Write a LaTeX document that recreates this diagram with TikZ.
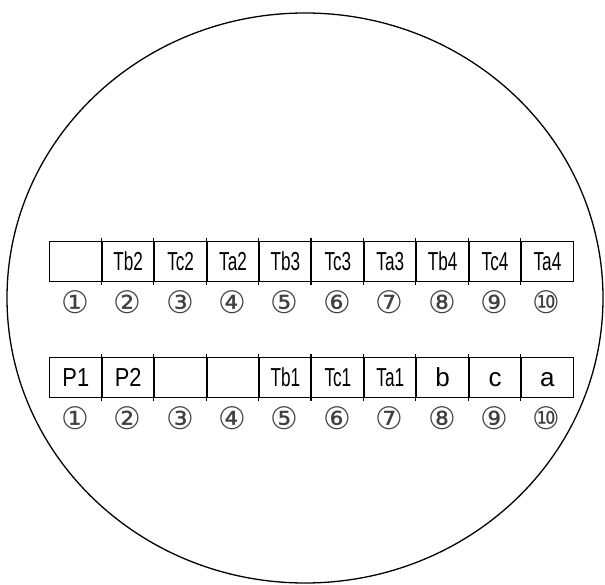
\documentclass[tikz,border=0pt]{standalone}
\usepackage{fontspec}
\setmainfont{Liberation Sans}
\newfontfamily\circfont{DejaVu Sans}
\usepackage{graphicx}
\newcommand\nar[2]{\scalebox{#1}[1]{#2}}
\begin{document}
\begin{tikzpicture}[x=1pt,y=-1pt,
  cell/.style={draw, line width=1.3pt, minimum width=52.4pt, minimum height=40pt,
    inner sep=0pt, anchor=north west, text height=18.6pt, text depth=0pt,
    font=\fontsize{26}{26}\selectfont},
  num/.style={font=\circfont\fontsize{31}{31}\selectfont, inner sep=0pt, text=black!75},
  tick/.style={line width=1.3pt}]
\useasboundingbox (0,0) rectangle (605,585);
\draw[line width=1.3pt] (305,298) ellipse [x radius=298, y radius=285];
% row 1
\foreach \t/\s [count=\i] in {{}/1, Tb2/0.66, Tc2/0.66, Ta2/0.66, Tb3/0.66, Tc3/0.66, Ta3/0.66, Tb4/0.66, Tc4/0.66, Ta4/0.66}{
  \node[cell] (ra\i) at ({49+52.4*(\i-1)},241) {\nar{\s}{\t}};
}
\foreach \t/\s [count=\i] in {P1/0.84, P2/0.84, {}/1, {}/1, Tb1/0.66, Tc1/0.66, Ta1/0.66, b/1, c/1, a/1}{
  \node[cell] (rb\i) at ({49+52.4*(\i-1)},357) {\nar{\s}{\t}};
}
\foreach \i in {2,...,10}{
  \draw[tick] ([yshift=3pt]ra\i.north west) -- ([yshift=-3pt]ra\i.south west);
  \draw[tick] ([yshift=3pt]rb\i.north west) -- ([yshift=-3pt]rb\i.south west);
}
\foreach \c [count=\i] in {①,②,③,④,⑤,⑥,⑦,⑧,⑨,⑩}{
  \node[num] (na\i) at ({49+52.4*(\i-0.5)},302) {\c};
  \node[num] (nb\i) at ({49+52.4*(\i-0.5)},418) {\c};
}
\end{tikzpicture}
\end{document}
